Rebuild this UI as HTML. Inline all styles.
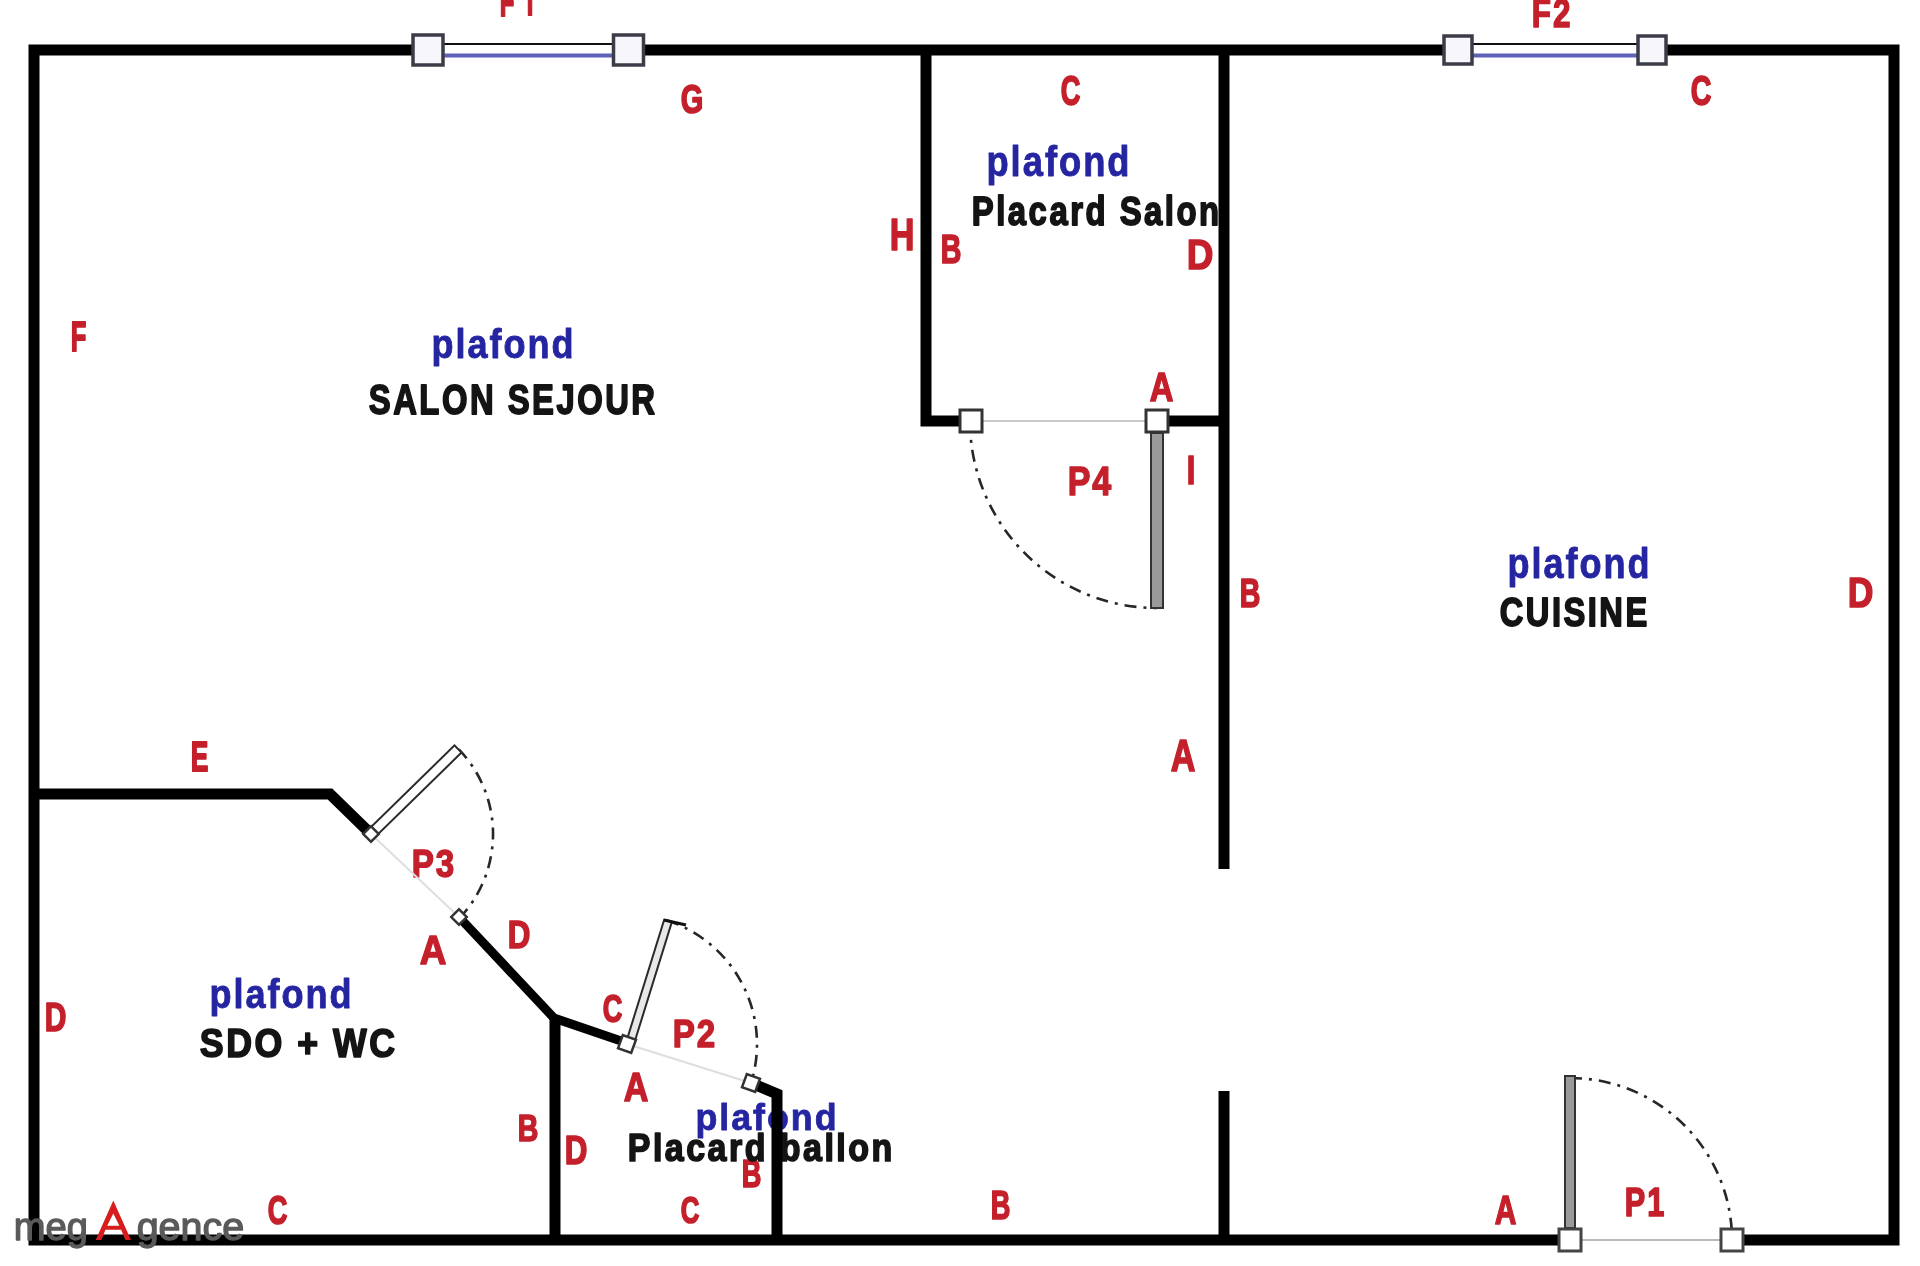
<!DOCTYPE html>
<html><head><meta charset="utf-8"><style>
html,body{margin:0;padding:0;background:#fff;width:1920px;height:1266px;overflow:hidden}
svg{display:block;filter:blur(0.5px)}
text{font-family:"Liberation Sans", sans-serif}
</style></head><body>
<svg width="1920" height="1266" viewBox="0 0 1920 1266">
<rect width="1920" height="1266" fill="#fff"/>
<text transform="matrix(0.2393 0 0 0.4145 499.70 16.30)" font-size="100" font-weight="bold" fill="#c4202b" stroke="#c4202b" stroke-width="4.44" stroke-linejoin="round" >F</text>
<text transform="matrix(0.2357 0 0 0.4000 526.70 15.30)" font-size="100" font-weight="bold" fill="#c4202b" stroke="#c4202b" stroke-width="4.56" stroke-linejoin="round" >I</text>
<text transform="matrix(0.2897 0 0 0.4028 680.70 112.90)" font-size="100" font-weight="bold" fill="#c4202b" stroke="#c4202b" stroke-width="4.10" stroke-linejoin="round" >G</text>
<text transform="matrix(0.3417 0 0 0.4435 889.70 250.30)" font-size="100" font-weight="bold" fill="#c4202b" stroke="#c4202b" stroke-width="3.60" stroke-linejoin="round" >H</text>
<text transform="matrix(0.2722 0 0 0.4169 1060.70 104.88)" font-size="100" font-weight="bold" fill="#c4202b" stroke="#c4202b" stroke-width="4.16" stroke-linejoin="round" >C</text>
<text transform="matrix(0.2861 0 0 0.4000 940.70 263.30)" font-size="100" font-weight="bold" fill="#c4202b" stroke="#c4202b" stroke-width="4.14" stroke-linejoin="round" >B</text>
<text transform="matrix(0.3694 0 0 0.4290 1186.70 269.30)" font-size="100" font-weight="bold" fill="#c4202b" stroke="#c4202b" stroke-width="3.52" stroke-linejoin="round" >D</text>
<text transform="matrix(0.3142 0 0 0.4086 1531.70 27.30)" font-size="100" font-weight="bold" fill="#c4202b" stroke="#c4202b" stroke-width="3.91" stroke-linejoin="round" letter-spacing="6.37" >F2</text>
<text transform="matrix(0.2861 0 0 0.4169 1690.70 104.88)" font-size="100" font-weight="bold" fill="#c4202b" stroke="#c4202b" stroke-width="4.05" stroke-linejoin="round" >C</text>
<text transform="matrix(0.2557 0 0 0.4290 70.70 351.30)" font-size="100" font-weight="bold" fill="#c4202b" stroke="#c4202b" stroke-width="4.23" stroke-linejoin="round" >F</text>
<text transform="matrix(0.3278 0 0 0.4000 1149.70 401.30)" font-size="100" font-weight="bold" fill="#c4202b" stroke="#c4202b" stroke-width="3.87" stroke-linejoin="round" >A</text>
<text transform="matrix(0.3396 0 0 0.4145 1067.70 495.30)" font-size="100" font-weight="bold" fill="#c4202b" stroke="#c4202b" stroke-width="3.73" stroke-linejoin="round" letter-spacing="5.89" >P4</text>
<text transform="matrix(0.3071 0 0 0.4145 1186.70 484.30)" font-size="100" font-weight="bold" fill="#c4202b" stroke="#c4202b" stroke-width="3.92" stroke-linejoin="round" >I</text>
<text transform="matrix(0.2861 0 0 0.4145 1239.70 607.30)" font-size="100" font-weight="bold" fill="#c4202b" stroke="#c4202b" stroke-width="4.07" stroke-linejoin="round" >B</text>
<text transform="matrix(0.3556 0 0 0.4290 1847.70 607.30)" font-size="100" font-weight="bold" fill="#c4202b" stroke="#c4202b" stroke-width="3.58" stroke-linejoin="round" >D</text>
<text transform="matrix(0.3417 0 0 0.4435 1170.70 771.30)" font-size="100" font-weight="bold" fill="#c4202b" stroke="#c4202b" stroke-width="3.60" stroke-linejoin="round" >A</text>
<text transform="matrix(0.2647 0 0 0.4290 190.70 771.30)" font-size="100" font-weight="bold" fill="#c4202b" stroke="#c4202b" stroke-width="4.15" stroke-linejoin="round" >E</text>
<text transform="matrix(0.3314 0 0 0.3887 411.70 876.91)" font-size="100" font-weight="bold" fill="#c4202b" stroke="#c4202b" stroke-width="3.90" stroke-linejoin="round" letter-spacing="6.03" >P3</text>
<text transform="matrix(0.3694 0 0 0.4145 419.70 964.30)" font-size="100" font-weight="bold" fill="#c4202b" stroke="#c4202b" stroke-width="3.58" stroke-linejoin="round" >A</text>
<text transform="matrix(0.3139 0 0 0.3855 507.70 948.30)" font-size="100" font-weight="bold" fill="#c4202b" stroke="#c4202b" stroke-width="4.02" stroke-linejoin="round" >D</text>
<text transform="matrix(0.3000 0 0 0.4145 44.70 1031.30)" font-size="100" font-weight="bold" fill="#c4202b" stroke="#c4202b" stroke-width="3.97" stroke-linejoin="round" >D</text>
<text transform="matrix(0.2722 0 0 0.3887 602.70 1021.91)" font-size="100" font-weight="bold" fill="#c4202b" stroke="#c4202b" stroke-width="4.30" stroke-linejoin="round" >C</text>
<text transform="matrix(0.3314 0 0 0.3943 672.70 1047.30)" font-size="100" font-weight="bold" fill="#c4202b" stroke="#c4202b" stroke-width="3.87" stroke-linejoin="round" letter-spacing="6.03" >P2</text>
<text transform="matrix(0.3417 0 0 0.4145 623.70 1101.30)" font-size="100" font-weight="bold" fill="#c4202b" stroke="#c4202b" stroke-width="3.72" stroke-linejoin="round" >A</text>
<text transform="matrix(0.2861 0 0 0.3710 517.70 1141.30)" font-size="100" font-weight="bold" fill="#c4202b" stroke="#c4202b" stroke-width="4.30" stroke-linejoin="round" >B</text>
<text transform="matrix(0.3139 0 0 0.4000 564.70 1164.30)" font-size="100" font-weight="bold" fill="#c4202b" stroke="#c4202b" stroke-width="3.95" stroke-linejoin="round" >D</text>
<text transform="matrix(0.2583 0 0 0.3746 680.70 1222.93)" font-size="100" font-weight="bold" fill="#c4202b" stroke="#c4202b" stroke-width="4.50" stroke-linejoin="round" >C</text>
<text transform="matrix(0.2722 0 0 0.3855 741.70 1187.30)" font-size="100" font-weight="bold" fill="#c4202b" stroke="#c4202b" stroke-width="4.32" stroke-linejoin="round" >B</text>
<text transform="matrix(0.2722 0 0 0.4000 990.70 1219.30)" font-size="100" font-weight="bold" fill="#c4202b" stroke="#c4202b" stroke-width="4.24" stroke-linejoin="round" >B</text>
<text transform="matrix(0.3000 0 0 0.4145 1494.70 1224.30)" font-size="100" font-weight="bold" fill="#c4202b" stroke="#c4202b" stroke-width="3.97" stroke-linejoin="round" >A</text>
<text transform="matrix(0.3069 0 0 0.4145 1624.70 1216.30)" font-size="100" font-weight="bold" fill="#c4202b" stroke="#c4202b" stroke-width="3.93" stroke-linejoin="round" letter-spacing="6.52" >P1</text>
<text transform="matrix(0.2722 0 0 0.4028 267.70 1223.90)" font-size="100" font-weight="bold" fill="#c4202b" stroke="#c4202b" stroke-width="4.23" stroke-linejoin="round" >C</text>
<text transform="matrix(0.3634 0 0 0.4193 986.40 175.80)" font-size="100" font-weight="bold" fill="#2525a2" stroke="#2525a2" stroke-width="2.05" stroke-linejoin="round" letter-spacing="5.50" >plafond</text>
<text transform="matrix(0.3607 0 0 0.4086 431.40 358.02)" font-size="100" font-weight="bold" fill="#2525a2" stroke="#2525a2" stroke-width="2.08" stroke-linejoin="round" letter-spacing="5.55" >plafond</text>
<text transform="matrix(0.3607 0 0 0.4193 1507.40 577.80)" font-size="100" font-weight="bold" fill="#2525a2" stroke="#2525a2" stroke-width="2.06" stroke-linejoin="round" letter-spacing="5.55" >plafond</text>
<text transform="matrix(0.3607 0 0 0.3979 209.40 1008.24)" font-size="100" font-weight="bold" fill="#2525a2" stroke="#2525a2" stroke-width="2.11" stroke-linejoin="round" letter-spacing="5.55" >plafond</text>
<text transform="matrix(0.3579 0 0 0.3765 695.40 1129.69)" font-size="100" font-weight="bold" fill="#2525a2" stroke="#2525a2" stroke-width="2.18" stroke-linejoin="round" letter-spacing="5.59" >plafond</text>
<text transform="matrix(0.3286 0 0 0.4000 971.80 224.80)" font-size="100" font-weight="bold" fill="#141414" stroke="#141414" stroke-width="4.41" stroke-linejoin="round" letter-spacing="7.61" >Placard Salon</text>
<text transform="matrix(0.3281 0 0 0.4282 368.80 413.77)" font-size="100" font-weight="bold" fill="#141414" stroke="#141414" stroke-width="4.27" stroke-linejoin="round" letter-spacing="7.62" >SALON SEJOUR</text>
<text transform="matrix(0.3265 0 0 0.4000 1499.80 625.80)" font-size="100" font-weight="bold" fill="#141414" stroke="#141414" stroke-width="4.43" stroke-linejoin="round" letter-spacing="7.66" >CUISINE</text>
<text transform="matrix(0.3576 0 0 0.4141 199.80 1056.79)" font-size="100" font-weight="bold" fill="#141414" stroke="#141414" stroke-width="4.16" stroke-linejoin="round" letter-spacing="6.99" >SDO + WC</text>
<text transform="matrix(0.3393 0 0 0.3864 627.80 1160.81)" font-size="100" font-weight="bold" fill="#141414" stroke="#141414" stroke-width="4.42" stroke-linejoin="round" letter-spacing="7.37" >Placard ballon</text>
<path d="M428,50 L34,50 L34,1240 L1570,1240" fill="none" stroke="#000" stroke-width="11" stroke-linejoin="miter" stroke-linecap="butt"/>
<path d="M628,50 L1458,50" fill="none" stroke="#000" stroke-width="11" stroke-linejoin="miter" stroke-linecap="butt"/>
<path d="M1652,50 L1894,50 L1894,1240 L1732,1240" fill="none" stroke="#000" stroke-width="11" stroke-linejoin="miter" stroke-linecap="butt"/>
<path d="M926,50 L926,421 L971,421" fill="none" stroke="#000" stroke-width="11" stroke-linejoin="miter" stroke-linecap="butt"/>
<path d="M1157,421 L1224,421" fill="none" stroke="#000" stroke-width="11" stroke-linejoin="miter" stroke-linecap="butt"/>
<path d="M1224,50 L1224,869" fill="none" stroke="#000" stroke-width="11" stroke-linejoin="miter" stroke-linecap="butt"/>
<path d="M1224,1091 L1224,1240" fill="none" stroke="#000" stroke-width="11" stroke-linejoin="miter" stroke-linecap="butt"/>
<path d="M34,794 L330,794 L371,834" fill="none" stroke="#000" stroke-width="11" stroke-linejoin="miter" stroke-linecap="butt"/>
<path d="M555,1240 L555,1018" fill="none" stroke="#000" stroke-width="11" stroke-linejoin="miter" stroke-linecap="butt"/>
<path d="M751,1083 L777,1094 L777,1240" fill="none" stroke="#000" stroke-width="11" stroke-linejoin="miter" stroke-linecap="butt"/>
<path d="M459,917 L554,1018 L627,1043" fill="none" stroke="#000" stroke-width="9" stroke-linejoin="miter"/>
<line x1="428" y1="44" x2="628" y2="44" stroke="#111" stroke-width="2"/>
<line x1="428" y1="55.5" x2="628" y2="55.5" stroke="#5f63b8" stroke-width="4"/>
<line x1="1458" y1="44" x2="1652" y2="44" stroke="#111" stroke-width="2"/>
<line x1="1458" y1="55.5" x2="1652" y2="55.5" stroke="#5f63b8" stroke-width="4"/>
<rect x="413.0" y="35.0" width="30" height="30" fill="#f6f6fb" stroke="#3c3c48" stroke-width="3.5" transform="rotate(0 428 50)"/>
<rect x="613.5" y="35.0" width="30" height="30" fill="#f6f6fb" stroke="#3c3c48" stroke-width="3.5" transform="rotate(0 628.5 50)"/>
<rect x="1444.0" y="36.0" width="28" height="28" fill="#f6f6fb" stroke="#3c3c48" stroke-width="3.5" transform="rotate(0 1458 50)"/>
<rect x="1638.0" y="36.0" width="28" height="28" fill="#f6f6fb" stroke="#3c3c48" stroke-width="3.5" transform="rotate(0 1652 50)"/>
<line x1="971" y1="421" x2="1157" y2="421" stroke="#c9c9c9" stroke-width="2"/>
<path d="M970.0,421.0 A187,187 0 0 0 1157.0,608.0" fill="none" stroke="#262626" stroke-width="2.6" stroke-dasharray="12 7 3 7"/>
<rect x="1151" y="433" width="12" height="175" fill="#9a9a9a" stroke="#333" stroke-width="2"/>
<rect x="960.0" y="410.0" width="22" height="22" fill="#fff" stroke="#333" stroke-width="3" transform="rotate(0 971 421)"/>
<rect x="1146.0" y="410.0" width="22" height="22" fill="#fff" stroke="#333" stroke-width="3" transform="rotate(0 1157 421)"/>
<line x1="1570" y1="1240" x2="1732" y2="1240" stroke="#b9b9b9" stroke-width="2"/>
<path d="M1570.0,1078.0 A162,162 0 0 1 1732.0,1240.0" fill="none" stroke="#262626" stroke-width="2.6" stroke-dasharray="12 7 3 7"/>
<rect x="1565" y="1076" width="10" height="152" fill="#9a9a9a" stroke="#333" stroke-width="2"/>
<rect x="1559.0" y="1229.0" width="22" height="22" fill="#fff" stroke="#444" stroke-width="3" transform="rotate(0 1570 1240)"/>
<rect x="1721.0" y="1229.0" width="22" height="22" fill="#fff" stroke="#444" stroke-width="3" transform="rotate(0 1732 1240)"/>
<line x1="371" y1="834" x2="459" y2="917" stroke="#dedede" stroke-width="2"/>
<path d="M458.8,749.3 A122,122 0 0 1 457.3,920.3" fill="none" stroke="#262626" stroke-width="2.6" stroke-dasharray="12 7 3 7"/>
<rect x="0" y="-5.0" width="121.6" height="10" fill="#ffffff" stroke="#2a2a2a" stroke-width="2" transform="translate(371 834) rotate(-44.33)"/>
<rect x="365.5" y="828.5" width="11" height="11" fill="#fff" stroke="#333" stroke-width="2.5" transform="rotate(45 371 834)"/>
<rect x="453.5" y="911.5" width="11" height="11" fill="#fff" stroke="#333" stroke-width="2.5" transform="rotate(45 459 917)"/>
<line x1="627" y1="1044" x2="751" y2="1083" stroke="#dedede" stroke-width="2"/>
<path d="M667.2,920.4 A130,130 0 0 1 751.0,1083.1" fill="none" stroke="#262626" stroke-width="2.6" stroke-dasharray="12 7 3 7"/>
<rect x="0" y="-4.0" width="124.6" height="8" fill="#e8e8e8" stroke="#2a2a2a" stroke-width="2" transform="translate(631 1040) rotate(-72.73)"/>
<path d="M664,920 L686,925" stroke="#111" stroke-width="3"/>
<rect x="620.0" y="1037.0" width="14" height="14" fill="#fff" stroke="#333" stroke-width="2.5" transform="rotate(20 627 1044)"/>
<rect x="744.0" y="1076.0" width="14" height="14" fill="#fff" stroke="#333" stroke-width="2.5" transform="rotate(20 751 1083)"/>
<text transform="matrix(0.3815 0 0 0.3827 13.65 1240.31)" font-size="100" font-weight="normal" fill="#5a5a5a" stroke="#5a5a5a" stroke-width="3.40" stroke-linejoin="round" >meg</text>
<text transform="matrix(0.3952 0 0 0.3827 136.65 1240.31)" font-size="100" font-weight="normal" fill="#5a5a5a" stroke="#5a5a5a" stroke-width="3.34" stroke-linejoin="round" >gence</text>
<path fill-rule="evenodd" fill="#d61c1c" d="M95.7,1240 L113.3,1200.5 L131,1240 Z M113.3,1213.5 L107.2,1225.8 L119.4,1225.8 Z M105.5,1229.7 L101.3,1240 L125.4,1240 L121.1,1229.7 Z"/>
</svg>
</body></html>
